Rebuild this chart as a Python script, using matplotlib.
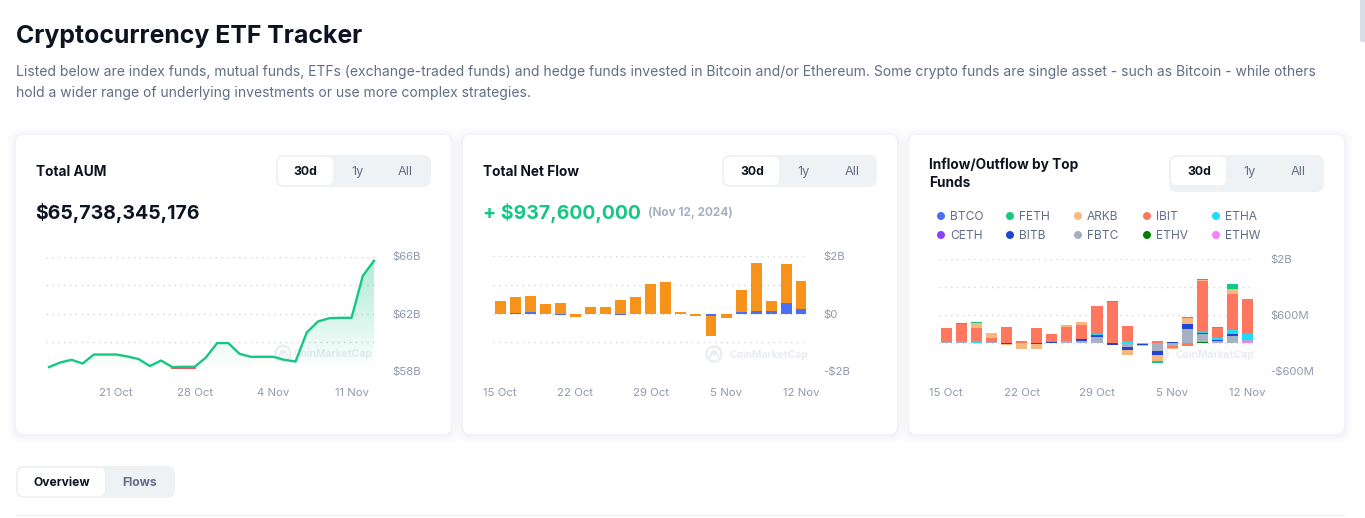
import numpy as np
import matplotlib
matplotlib.use("Agg")
import matplotlib.pyplot as plt
import matplotlib.patches as patches

# ============ DATA ==============

aum_days = list(range(30))
aum_ticks = [6, 13, 20, 27]
aum_tick_labels = ["21 Oct", "28 Oct", "4 Nov", "11 Nov"]
aum_values = [58.26, 58.58, 58.77, 58.51, 59.14, 59.14, 59.14, 59.00, 58.82, 58.33,
              58.72, 58.26, 58.28, 58.28, 58.93, 59.94, 59.94, 59.19, 58.98, 58.98,
              58.98, 58.77, 58.65, 60.68, 61.45, 61.68, 61.71, 61.71, 64.65, 65.70]
aum_red_days = [11, 12, 13]
aum_red_values = [58.23, 58.23, 58.23]

flow_days = list(range(21))
flow_ticks = [0, 5, 10, 15, 20]
flow_tick_labels = ["15 Oct", "22 Oct", "29 Oct", "5 Nov", "12 Nov"]

# total net flow in $B
flow_eth = [0, 0.02, 0.06, 0, -0.04, 0, 0, 0, -0.04, 0, 0, 0, 0, 0, -0.08, 0,
            0.06, 0.09, 0.09, 0.37, 0.16]
flow_btc = [0.44, 0.56, 0.56, 0.34, 0.37, -0.12, 0.23, 0.23, 0.48, 0.58, 1.04, 1.11,
            0.06, -0.08, -0.70, -0.15, 0.77, 1.68, 0.35, 1.37, 0.98]

# per fund flows in $M
fund_names = ["BTCO", "FETH", "ARKB", "IBIT", "ETHA", "CETH", "BITB", "FBTC", "ETHV", "ETHW"]
fund_colors = ["#4a6ff5", "#16c784", "#f6b87e", "#ff775f", "#21d9f9",
               "#8a3ffc", "#2244d5", "#a6b0c3", "#008000", "#f97ffa"]
btco = [0] * 21
feth = [0, 24, 24, 0, 0, 0, 0, 0, 0, 0, 0, 24, 0, 0, -47, 0, 24, 24, 24, 118, 0]
arkb = [16, 0, 118, 118, -24, -141, -118, 0, 47, 71, 0, 0, -118, -24, -141, -24, 141, 24, 0, 118, 0]
ibit = [330, 417, 322, 94, 369, 39, 346, 189, 330, 330, 660, 959, 354, 0, 47, -47, -71, 1203, 236, 849, 825]
etha = [0, 16, 39, 0, 0, 0, 0, 0, 0, 0, 24, 0, 47, 0, 0, 0, 0, 24, 47, 94, 141]
ceth = [0] * 21
bitb = [0, 0, 0, 16, -24, 0, -24, 16, 0, 47, 47, -47, -71, -24, -94, 24, 118, 24, 24, 47, 0]
fbtc = [16, 24, 0, 16, 0, 0, 0, 0, 39, 39, 134, 0, -94, -24, -189, -71, 330, 189, 47, 165, 47]
ethv = [0] * 17 + [24, 0, 0, 0]
ethw = [0] * 20 + [24]
fund_values = [btco, feth, arkb, ibit, etha, ceth, bitb, fbtc, ethv, ethw]

INK = "#0d1421"
GREY = "#616e85"
LIGHT = "#a6b0c3"
GREEN = "#16c784"
W, H = 1365, 518

plt.rcParams['font.family'] = ['Inter', 'DejaVu Sans']

fig = plt.figure(figsize=(W / 100, H / 100), dpi=100, facecolor="white")

# page layer in pixel coordinates
bg = fig.add_axes([0, 0, 1, 1])
bg.set_xlim(0, W)
bg.set_ylim(H, 0)
bg.axis('off')


def px_axes(x0, y0, x1, y1):
    ax = fig.add_axes([x0 / W, 1 - y1 / H, (x1 - x0) / W, (y1 - y0) / H])
    ax.patch.set_alpha(0)
    for s in ax.spines.values():
        s.set_visible(False)
    return ax


def round_box(x0, y0, x1, y1, r, color, **kw):
    p = patches.FancyBboxPatch((x0 + r, y0 + r), x1 - x0 - 2 * r, y1 - y0 - 2 * r,
                               boxstyle=f"round,pad={r}", facecolor=color,
                               edgecolor="none", **kw)
    bg.add_patch(p)


def card(x0, y0, x1, y1):
    # soft shadow first
    for grow, a in [(9, 0.003), (7, 0.004), (5, 0.005), (3, 0.007), (1.5, 0.008)]:
        round_box(x0 - grow, y0 - grow + 1, x1 + grow, y1 + grow + 1, 8 + grow, "#586a8a", alpha=a * 2)
    round_box(x0, y0, x1, y1, 8, "white")


def toggle(x0, y0, y1, white, labels_x, text_y):
    round_box(x0, y0, x0 + 155, y1, 8, "#eff2f5")
    round_box(white[0], white[1], white[2], white[3], 6, "white")
    bg.text(labels_x[0], text_y, "30d", ha='center', va='center', fontsize=8.8, fontweight='bold', color=INK)
    bg.text(labels_x[1], text_y, "1y", ha='center', va='center', fontsize=9.2, color=GREY)
    bg.text(labels_x[2], text_y, "All", ha='center', va='center', fontsize=9.2, color=GREY)


def watermark(logo_x, text_x, y):
    c = "#e9ecf1"
    bg.add_patch(patches.Circle((logo_x, y), 7.5, facecolor="none", edgecolor=c, linewidth=1.6))
    bg.plot([logo_x - 4, logo_x - 1.5, logo_x, logo_x + 1.5, logo_x + 4],
            [y + 3, y - 3, y + 1.5, y - 3, y + 2], color=c, lw=1.5)
    bg.text(text_x, y + 0.5, "CoinMarketCap", ha='left', va='center', fontsize=7.4,
            fontweight='bold', color=c)


def style_axis(ax, grid, grid_labels, ticks, tick_labels):
    ax.set_yticks(grid)
    ax.set_yticklabels(grid_labels)
    ax.yaxis.tick_right()
    ax.set_xticks(ticks)
    ax.set_xticklabels(tick_labels)
    ax.tick_params(axis='y', length=0, pad=12.2, labelsize=8.2, labelcolor="#8f99ad")
    ax.tick_params(axis='x', length=0, pad=12.2, labelsize=8.2, labelcolor="#8f99ad")
    ax.grid(axis='y', linestyle=(0, (1, 3.2)), color="#cfd5df", linewidth=1)
    ax.set_axisbelow(True)


# ============ PAGE HEADER ==============

bg.text(16, 36, "Cryptocurrency ETF Tracker", fontsize=17.9, fontweight='bold', color=INK, va='center')
bg.text(16, 72, "Listed below are index funds, mutual funds, ETFs (exchange-traded funds) and hedge funds "
                "invested in Bitcoin and/or Ethereum. Some crypto funds are single asset - such as Bitcoin - while others",
        fontsize=10.02, color=GREY, va='center')
bg.text(16, 93, "hold a wider range of underlying investments or use more complex strategies.",
        fontsize=10.02, color=GREY, va='center')

# scrollbar thumb
round_box(1360, -4, 1366, 42, 2, "#d9dee6")

card(16, 135, 451, 434)
card(463, 135, 897, 434)
card(909, 135, 1344, 434)

# ============ CARD HEADERS ==============

bg.text(36, 172, "Total AUM", fontsize=9.85, fontweight='bold', color=INK, va='center')
bg.text(35.5, 213, "$65,738,345,176", fontsize=14.0, fontweight='bold', color=INK, va='center')
toggle(276, 155, 187, (278, 157, 333, 185), (305.5, 357, 405), 172)

bg.text(483, 172, "Total Net Flow", fontsize=9.85, fontweight='bold', color=INK, va='center')
bg.text(483, 213, "+ $937,600,000", fontsize=14.0, fontweight='bold', color=GREEN, va='center')
bg.text(648, 213, "(Nov 12, 2024)", fontsize=8.5, fontweight='bold', color=LIGHT, va='center')
toggle(722, 155, 187, (724, 157, 779, 185), (752, 804, 852), 172)

bg.text(929, 164.5, "Inflow/Outflow by Top", fontsize=9.85, fontweight='bold', color=INK, va='center')
bg.text(929, 183, "Funds", fontsize=9.85, fontweight='bold', color=INK, va='center')
toggle(1169, 155, 192, (1171, 157, 1226, 185), (1199, 1250, 1298), 172)

# legend of the third card
legend_x = [941, 1010, 1078, 1147, 1216]
legend_y = [216, 235]
for i, name in enumerate(fund_names):
    lx = legend_x[i % 5]
    ly = legend_y[i // 5]
    bg.add_patch(patches.Circle((lx, ly), 4, facecolor=fund_colors[i], edgecolor="none"))
    bg.text(lx + 8.8, ly + 1, name, fontsize=8.6, color=GREY, va='center')

watermark(283, 293, 353.5)
watermark(714, 729, 354)
watermark(1160, 1175, 354)

# ============ TOTAL AUM ==============

ax1 = px_axes(46, 256.5, 375, 370.8)
ax1.set_xlim(-0.27, 29.09)
ax1.set_ylim(58, 66)
style_axis(ax1, [58, 60, 62, 64, 66], ["$58B", "", "$62B", "", "$66B"], aum_ticks, aum_tick_labels)

grad = np.zeros((128, 2, 4))
grad[..., 0:3] = matplotlib.colors.to_rgb(GREEN)
grad[..., 3] = np.linspace(0.36, 0.0, 128)[:, None]
im = ax1.imshow(grad, extent=(0, 29, 58, 66), origin='upper', aspect='auto', zorder=1)
poly = patches.Polygon(list(zip(aum_days, aum_values)) + [(29, 58), (0, 58)],
                       transform=ax1.transData, facecolor="none", edgecolor="none")
ax1.add_patch(poly)
im.set_clip_path(poly)
ax1.set_xlim(-0.27, 29.09)
ax1.set_ylim(58, 66)

ax1.plot(aum_red_days, aum_red_values, color="#ea3943", lw=1.2, zorder=2)
ax1.plot(aum_days, aum_values, color=GREEN, lw=1.7, zorder=3, solid_joinstyle='round', clip_on=False)

# ============ TOTAL NET FLOW ==============

step2 = 15.05
ax2 = px_axes(493, 256.2, 806, 371)
ax2.set_xlim((493 - 500.3) / step2, (806 - 500.3) / step2)
ax2.set_ylim(-2, 2)
style_axis(ax2, [-2, -1, 0, 1, 2], ["-$2B", "", "$0", "", "$2B"], flow_ticks, flow_tick_labels)

eth = np.array(flow_eth)
btc = np.array(flow_btc)
# bars of one sign stack on each other
base = np.where(np.sign(eth) == np.sign(btc), eth, 0)
ax2.bar(flow_days, eth, width=0.73, color="#4a6ff5", zorder=3)
ax2.bar(flow_days, btc, bottom=base, width=0.73, color="#f7931a", zorder=3)

# ============ INFLOW / OUTFLOW BY FUND ==============

step3 = 15.07
ax3 = px_axes(939, 259.2, 1253, 370.8)
ax3.set_xlim((939 - 946.3) / step3, (1253 - 946.3) / step3)
ax3.set_ylim(-660, 1980)
style_axis(ax3, [-660, 0, 660, 1320, 1980], ["-$600M", "", "$600M", "", "$2B"], flow_ticks, flow_tick_labels)

pos_base = np.zeros(21)
neg_base = np.zeros(21)
# last legend entry sits next to the zero line
for name, color, vals in reversed(list(zip(fund_names, fund_colors, fund_values))):
    vals = np.array(vals, dtype=float)
    bottoms = np.where(vals >= 0, pos_base, neg_base)
    ax3.bar(flow_days, vals, bottom=bottoms, width=0.73, color=color, zorder=3)
    pos_base += np.clip(vals, 0, None)
    neg_base += np.clip(vals, None, 0)

# ============ TABS ==============

round_box(16, 466, 175, 498, 8, "#eff2f5")
round_box(18, 468, 105, 496, 6, "white")
bg.text(61.5, 483, "Overview", ha='center', va='center', fontsize=8.7, fontweight='bold', color=INK)
bg.text(140, 483, "Flows", ha='center', va='center', fontsize=8.7, fontweight='bold', color=GREY)
bg.plot([16, 1344], [514.5, 514.5], color="#eff2f5", lw=0.8)

fig.savefig("out.png", dpi=100)
